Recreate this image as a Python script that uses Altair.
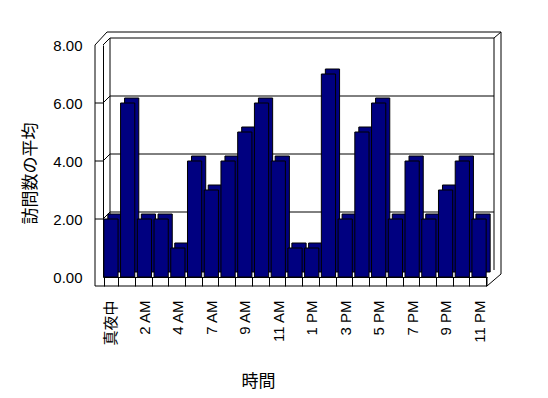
import json
import altair as alt
import pandas as pd

# ---- data ----
hours = ['真夜中', '1 AM', '2 AM', '3 AM', '4 AM', '5 AM', '7 AM', '8 AM', '9 AM',
         '10 AM', '11 AM', '12 PM', '1 PM', '2 PM', '3 PM', '4 PM', '5 PM', '6 PM',
         '7 PM', '8 PM', '9 PM', '10 PM', '11 PM']
visits = [2, 6, 2, 2, 1, 4, 3, 4, 5, 6, 4, 1, 1, 7, 2, 5, 6, 2, 4, 2, 3, 4, 2]
shown_labels = ['真夜中', '2 AM', '4 AM', '7 AM', '9 AM', '11 AM', '1 PM', '3 PM',
                '5 PM', '7 PM', '9 PM', '11 PM']
y_ticks = [0, 2, 4, 6, 8]
grid_values = [2, 4, 6]

df = pd.DataFrame({'hour': hours, 'visits': visits})
grid_df = pd.DataFrame({'v': grid_values})
one = pd.DataFrame({'a': [0]})

W, H = 384, 232
DX, DY = 7, 7          # wall depth
BX, BY = 4, 5          # bar depth
FONT = 'Liberation Sans'
JFONT = 'Noto Sans CJK JP'
XT = '時間'
YT = '訪問数の平均'

yscale = alt.Scale(domain=[0, 8], nice=False, zero=True)
xscale = alt.Scale(domain=hours, paddingInner=0.15, paddingOuter=0.05)


def seg(x1, y1, x2, y2):
    return alt.Chart(one).mark_rule(color='black', strokeWidth=1).encode(
        x=alt.value(x1), y=alt.value(y1), x2=alt.value(x2), y2=alt.value(y2))


label_expr = f"indexof({json.dumps(shown_labels, ensure_ascii=False)}, datum.label) >= 0 ? datum.label : ''"
xlabel_font = alt.ExprRef(f"test(/[^ -~]/, datum.label) ? '{JFONT}' : '{FONT}'")

bars = alt.Chart(df).mark_bar(
    color='#000080', stroke='black', strokeWidth=1).encode(
    x=alt.X('hour:N', sort=hours, scale=xscale, title=XT,
            axis=alt.Axis(labelAngle=270, labelExpr=label_expr, tickSize=9,
                          tickBand='extent', tickColor='black', domainColor='black',
                          labelFont=xlabel_font, labelFontSize=15, labelColor='black',
                          labelPadding=14,
                          titleFont=JFONT, titleFontSize=17, titleFontWeight='normal',
                          titleColor='black', titleX=155, titleY=104,
                          titleAlign='center', titleBaseline='middle')),
    y=alt.Y('visits:Q', scale=yscale, title=YT,
            axis=alt.Axis(values=y_ticks, format='.2f', ticks=False, grid=False,
                          domainColor='black', labelFont=FONT, labelFontSize=15,
                          labelColor='black', labelPadding=21,
                          titleFont=JFONT, titleFontSize=17, titleFontWeight='normal',
                          titleColor='black', titleAngle=270, titleX=-73, titleY=128,
                          titleAlign='center', titleBaseline='middle')))

bar_back = alt.Chart(df).mark_bar(
    color='#000080', stroke='black', strokeWidth=1,
    xOffset=BX, yOffset=-BY, y2Offset=-BY).encode(
    x=alt.X('hour:N', sort=hours, scale=xscale, title=XT),
    y=alt.Y('visits:Q', scale=yscale, title=YT))

back_grid = alt.Chart(grid_df).mark_rule(
    color='black', strokeWidth=1, yOffset=-DY, y2Offset=-DY).encode(
    y=alt.Y('v:Q', scale=yscale, title=YT), y2='v:Q',
    x=alt.value(DX), x2=alt.value(W + DX))

grid_diag = alt.Chart(grid_df).mark_rule(
    color='black', strokeWidth=1, y2Offset=-DY).encode(
    y=alt.Y('v:Q', scale=yscale, title=YT), y2='v:Q',
    x=alt.value(0), x2=alt.value(DX))

front_ticks = alt.Chart(grid_df).mark_rule(color='black', strokeWidth=1).encode(
    y=alt.Y('v:Q', scale=yscale, title=YT),
    x=alt.value(-8), x2=alt.value(0))

# back wall frame & left wall
frame = [
    seg(-8, 0, -8, H + 9),            # outer left edge
    seg(-8, 0, 4, -13),               # outer top-left diagonal
    seg(0, 0, DX, -DY),               # inner top-left diagonal
    seg(4, -13, W + 14, -13),         # outer top
    seg(DX, -DY, W + DX, -DY),        # inner top (8.00 gridline)
    seg(DX, -DY, DX, H - DY),         # back wall left
    seg(W + DX, -DY, W + DX, H - DY), # back wall right
    seg(W + 14, -13, W + 14, H - 3),  # outer right
    seg(W + DX, -DY, W + 14, -13),    # top-right diagonal
    seg(W, H + 9, W + 14, H - 3),     # bottom-right diagonal
    seg(-8, H + 9, W, H + 9),         # floor front edge
    seg(W, H, W, H + 9),              # floor right edge
]

chart = alt.layer(
    *frame, back_grid, grid_diag, front_ticks, bar_back, bars
).properties(
    width=W, height=H,
    autosize=alt.AutoSizeParams(type='none'),
    padding={'left': 95, 'top': 37, 'right': 53, 'bottom': 113},
    background='white'
).configure_view(stroke=None)

chart.save('out.html', embed_options={'renderer': 'svg', 'actions': False})
